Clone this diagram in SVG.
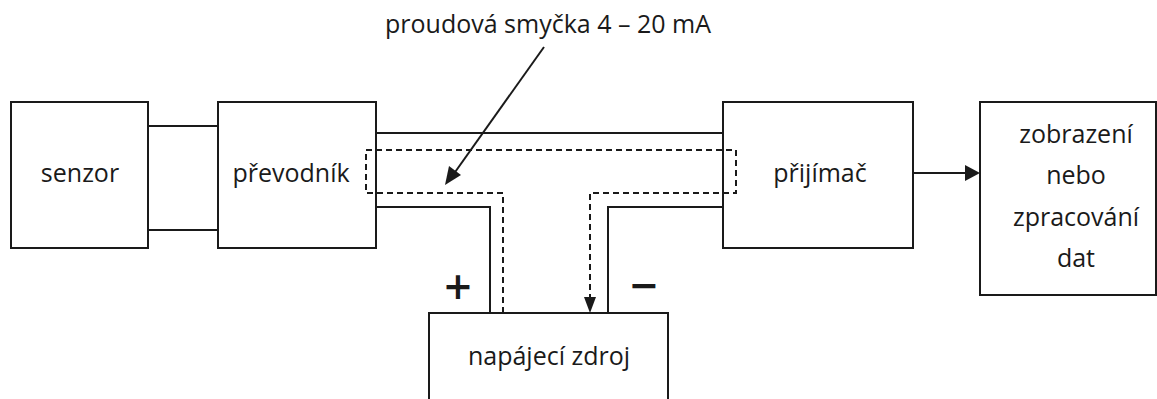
<svg xmlns="http://www.w3.org/2000/svg" width="1157" height="399" viewBox="0 0 1157 399">
<defs>
<style>
.box{fill:#fff;stroke:#1a1a1a;stroke-width:2}
.w{fill:none;stroke:#1a1a1a;stroke-width:2}
.d{fill:none;stroke:#1a1a1a;stroke-width:2;stroke-dasharray:6 4}
.ah{fill:#1a1a1a}
text{font-family:"Open Sans","Noto Sans",sans-serif;font-size:25px;fill:#1a1a1a;text-anchor:middle}
.sign{font-size:48px;font-weight:600}
</style>
</defs>
<rect width="1157" height="399" fill="#fff"/>
<g id="senzor"><rect class="box" x="11" y="102" width="137" height="146"/><text x="80" y="182">senzor</text></g>
<g id="prevodnik"><rect class="box" x="218" y="102" width="158" height="146"/><text x="291" y="182">převodník</text></g>
<g id="prijimac"><rect class="box" x="723" y="102" width="190" height="146"/><text x="820" y="182">přijímač</text></g>
<g id="zobrazeni"><rect class="box" x="980" y="102" width="176" height="193"/>
<text x="1076" y="143">zobrazení</text><text x="1076" y="184">nebo</text><text x="1076" y="226">zpracování</text><text x="1076" y="267">dat</text></g>
<g id="zdroj"><rect class="box" x="429" y="313" width="239" height="100"/><text x="549" y="365">napájecí zdroj</text></g>
<g id="connectors">
<line class="w" x1="148" y1="126" x2="218" y2="126"/>
<line class="w" x1="148" y1="230" x2="218" y2="230"/>
<line class="w" x1="376" y1="133" x2="723" y2="133"/>
<polyline class="w" points="376,207 490,207 490,313"/>
<polyline class="w" points="723,207 608,207 608,313"/>
<polyline class="d" points="503,313 503,193 366,193 366,150 736,150 736,193 590,193 590,297"/>
<path class="ah" d="M584,297L596,297L590,313z"/>
<line class="w" x1="544" y1="47" x2="453" y2="175"/>
<path class="ah" d="M445,185L449,166L461,175z"/>
<line class="w" x1="914" y1="173" x2="966" y2="173"/>
<path class="ah" d="M965,165L980,173L965,181z"/>
</g>
<g id="labels">
<text x="548" y="33">proudová smyčka 4 – 20 mA</text>
<text class="sign" x="458" y="304">+</text>
<text class="sign" x="644" y="303">−</text>
</g>
</svg>
